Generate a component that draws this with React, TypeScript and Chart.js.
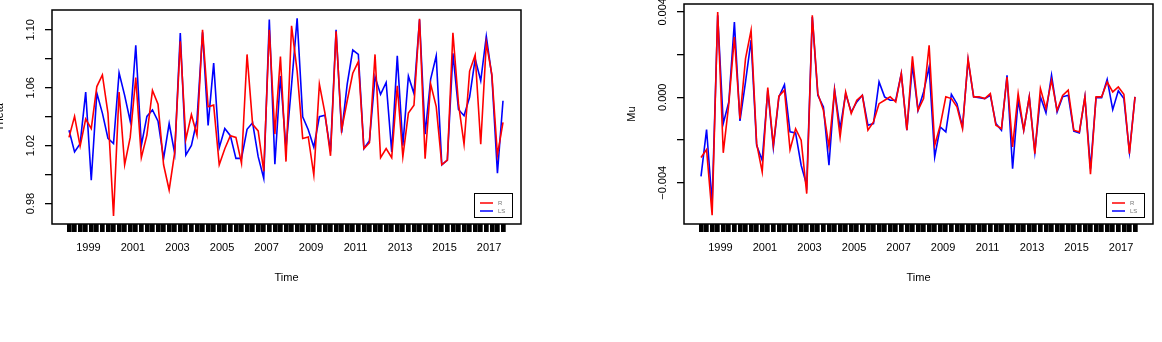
import React, { useEffect, useRef } from "react";
import { Chart, registerables } from "chart.js";

Chart.register(...registerables);

// Quarterly series, 1998 Q1 .. 2017 Q3 (plotted at mid-quarter)
const FIRST_QUARTER = 1998.125;

const thetaR = [
  1.0257, 1.0402, 1.0197, 1.0384, 1.0318, 1.0608, 1.0688, 1.0425, 0.9715, 1.057,
  1.0068, 1.0257, 1.067, 1.0117, 1.0273, 1.0581, 1.0487, 1.0068, 0.9894, 1.0153,
  1.092, 1.0242, 1.0414, 1.0273, 1.1, 1.0469, 1.048, 1.0068, 1.0179, 1.0269,
  1.0257, 1.0079, 1.083, 1.0347, 1.0302, 1.0023, 1.1, 1.028, 1.0815, 1.009,
  1.1027, 1.0715, 1.025, 1.026, 0.9997, 1.0625, 1.0425, 1.013, 1.099, 1.031,
  1.051, 1.07, 1.078, 1.018, 1.022, 1.083, 1.0117, 1.018, 1.0117, 1.0614,
  1.0124, 1.0425, 1.048, 1.1076, 1.011, 1.0625, 1.047, 1.0068, 1.01, 1.098,
  1.049, 1.021, 1.0715, 1.0826, 1.021, 1.091, 1.069, 1.0135, 1.036,
];

const thetaLS = [
  1.0306, 1.0157, 1.0213, 1.057, 0.9961, 1.0563, 1.0425, 1.0251, 1.0215, 1.0703,
  1.0547, 1.0369, 1.0893, 1.0202, 1.0402, 1.0447, 1.0369, 1.0112, 1.0353, 1.0146,
  1.0978, 1.0135, 1.0202, 1.0376, 1.0982, 1.034, 1.077, 1.0186, 1.0318, 1.0269,
  1.0112, 1.0112, 1.0313, 1.0358, 1.0124, 0.9974, 1.1071, 1.0072, 1.0681, 1.0179,
  1.062, 1.108, 1.04, 1.031, 1.019, 1.04, 1.041, 1.016, 1.1, 1.029,
  1.0625, 1.086, 1.083, 1.018, 1.0235, 1.0675, 1.0554, 1.0636, 1.0157, 1.082,
  1.02, 1.068, 1.056, 1.107, 1.028, 1.066, 1.082, 1.0068, 1.01, 1.0837,
  1.045, 1.0407, 1.0536, 1.08, 1.0648, 1.0955, 1.068, 1.001, 1.051,
];

const muR = [
  -0.00282, -0.00245, -0.00552, 0.00399, -0.0026, -0.0003, 0.00282, -0.001, 0.00181, 0.00313,
  -0.00217, -0.00349, 0.00045, -0.00225, 0.00005, 0.00033, -0.00245, -0.00147, -0.00201, -0.00451,
  0.00384, 0.00017, -0.00061, -0.00232, 0.00033, -0.00186, 0.00025, -0.00076, -0.00014, 0.00009,
  -0.00154, -0.00115, -0.0003, -0.00014, 0.00002, -0.00022, 0.00111, -0.00154, 0.00192, -0.00061,
  -0.00006, 0.00243, -0.00225, -0.00131, 0.00002, -0.00006, -0.00045, -0.00147, 0.00181, 0.00002,
  0.00002, -0.00006, 0.00017, -0.00131, -0.00147, 0.00095, -0.00232, 0.00017, -0.00154, 0.00002,
  -0.00264, 0.00041, -0.00053, 0.0008, -0.00061, 0.00009, 0.00033, -0.00154, -0.00162, 0.00002,
  -0.0036, 0.00002, 0.00002, 0.00072, 0.00025, 0.00048, 0.00014, -0.00264, 0.00002,
];

const muLS = [
  -0.0037, -0.00151, -0.00497, 0.00384, -0.00123, -0.00022, 0.00352, -0.00111, 0.00072, 0.00267,
  -0.00225, -0.00295, 0.00033, -0.00235, 0.00002, 0.00059, -0.00162, -0.00167, -0.00318, -0.00412,
  0.00376, 0.00009, -0.00045, -0.00318, 0.00036, -0.00147, 0.00017, -0.00069, -0.00022, 0.00009,
  -0.00131, -0.00123, 0.00072, 0.00002, -0.00014, -0.00014, 0.00111, -0.00154, 0.0015, -0.00061,
  0.00025, 0.00142, -0.00279, -0.00139, -0.00162, 0.00014, -0.0003, -0.00139, 0.00173, 0.00002,
  -0.00002, -0.00006, 0.00009, -0.00123, -0.00154, 0.00103, -0.00334, -0.00014, -0.00154, 0.00002,
  -0.00256, 0.00002, -0.00073, 0.00103, -0.00069, 0.00002, 0.00009, -0.00158, -0.00167, 0.00002,
  -0.00334, -0.00002, -0.00002, 0.00084, -0.00058, 0.0003, -0.00006, -0.00256, 0.00002,
];

const yearLabels = [1999, 2001, 2003, 2005, 2007, 2009, 2011, 2013, 2015, 2017];

const thetaTicks = [0.98, 1.0, 1.02, 1.04, 1.06, 1.08, 1.1];
const thetaTickLabels = ["0.98", "", "1.02", "", "1.06", "", "1.10"];
const muTicks = [-0.004, -0.002, 0, 0.002, 0.004];
const muTickLabels = ["\u22120.004", "", "0.000", "", "0.004"];

const seriesNames = ["R", "LS"];
const seriesColors = ["#ff0000", "#0000ff"];

const quarterTimes = thetaR.map((_, i) => FIRST_QUARTER + i / 4);

const FONT = '"Liberation Sans", Arial, Helvetica, sans-serif';
const X_MIN = 1997.361;
const X_MAX = 2018.434;

const boxPlugin = {
  id: "rbox",
  afterDatasetsDraw(chart: any) {
    const { ctx, chartArea: a } = chart;
    ctx.save();
    ctx.strokeStyle = "#000";
    ctx.lineWidth = 1.5;
    ctx.strokeRect(Math.round(a.left), Math.round(a.top), Math.round(a.right - a.left), Math.round(a.bottom - a.top));
    ctx.restore();
  },
};

const legendPlugin = {
  id: "rlegend",
  afterDraw(chart: any) {
    const { ctx, chartArea: a } = chart;
    const x0 = Math.round(a.right) - 47;
    const y0 = Math.round(a.bottom) - 31;
    ctx.save();
    ctx.fillStyle = "#fff";
    ctx.fillRect(x0, y0, 38, 24);
    ctx.strokeStyle = "#000";
    ctx.lineWidth = 1;
    ctx.strokeRect(x0 + 0.5, y0 + 0.5, 38, 24);
    chart.data.datasets.forEach((ds: any, i: number) => {
      const y = y0 + 10 + i * 8;
      ctx.strokeStyle = ds.borderColor;
      ctx.lineWidth = 1.5;
      ctx.beginPath();
      ctx.moveTo(x0 + 6, y);
      ctx.lineTo(x0 + 19, y);
      ctx.stroke();
      ctx.fillStyle = "#777";
      ctx.font = "6px " + FONT;
      ctx.textBaseline = "middle";
      ctx.textAlign = "left";
      ctx.fillText(ds.label, x0 + 24, y);
    });
    ctx.restore();
  },
};

type PanelProps = {
  left: number;
  width: number;
  axisWidth: number;
  rightPad: number;
  yTitle: string;
  yTitleOffset: number;
  yLabelPad: number;
  r: number[];
  ls: number[];
  yMin: number;
  yMax: number;
  yTicks: number[];
  yTickLabels: string[];
};

function Panel(p: PanelProps) {
  const ref = useRef<HTMLCanvasElement>(null);
  useEffect(() => {
    const font = { family: FONT, size: 11 };
    const series = [p.r, p.ls];
    const chart = new Chart(ref.current as HTMLCanvasElement, {
      type: "line",
      data: {
        datasets: series.map((vals, k) => ({
          label: seriesNames[k],
          data: vals.map((v, i) => ({ x: quarterTimes[i], y: v })),
          borderColor: seriesColors[k],
          backgroundColor: seriesColors[k],
          borderWidth: 1.6,
          pointRadius: 0,
          tension: 0,
          fill: false,
        })),
      },
      options: {
        animation: false,
        responsive: false,
        maintainAspectRatio: false,
        events: [],
        layout: { padding: { top: 4, right: p.rightPad, bottom: 0, left: 0 } },
        plugins: { legend: { display: false }, tooltip: { enabled: false }, title: { display: false } },
        scales: {
          x: {
            type: "linear",
            min: X_MIN,
            max: X_MAX,
            afterBuildTicks: (s: any) => {
              const arr = [
                ...quarterTimes.map((v) => ({ value: v })),
                ...yearLabels.map((v) => ({ value: v })),
              ];
              arr.sort((a, b) => a.value - b.value);
              s.ticks = arr;
            },
            afterFit: (s: any) => {
              s.height = 118;
            },
            grid: {
              drawOnChartArea: false,
              tickLength: 8,
              color: "#000",
              lineWidth: (c: any) => (c.tick && yearLabels.includes(c.tick.value) ? 0 : 4.7),
            },
            border: { display: false },
            ticks: {
              autoSkip: false,
              maxRotation: 0,
              minRotation: 0,
              padding: 9.4,
              color: "#000",
              font,
              callback: (v: any) => (yearLabels.includes(v) ? String(v) : ""),
            },
            title: { display: true, text: "Time", color: "#000", font, padding: { top: 0, bottom: 57.4 } },
          },
          y: {
            type: "linear",
            min: p.yMin,
            max: p.yMax,
            afterBuildTicks: (s: any) => {
              s.ticks = p.yTicks.map((v) => ({ value: v }));
            },
            afterFit: (s: any) => {
              s.width = p.axisWidth;
            },
            grid: { drawOnChartArea: false, tickLength: 7, color: "#000", lineWidth: 1.3 },
            border: { display: false },
            ticks: {
              autoSkip: false,
              minRotation: 90,
              maxRotation: 90,
              crossAlign: "center",
              padding: p.yLabelPad,
              color: "#000",
              font,
              callback: (_v: any, i: number) => p.yTickLabels[i],
            },
            title: { display: true, text: p.yTitle, color: "#000", font, padding: { top: p.yTitleOffset, bottom: 0 } },
          },
        },
      } as any,
      plugins: [boxPlugin, legendPlugin],
    });
    return () => chart.destroy();
  }, []);
  return (
    <canvas
      ref={ref}
      width={p.width}
      height={342}
      style={{ position: "absolute", left: p.left, top: 0, width: p.width, height: 342 }}
    />
  );
}

export default function App() {
  return (
    <div style={{ position: "absolute", left: 0, top: 0, width: 1162, height: 342, background: "#fff", overflow: "hidden" }}>
      <Panel
        left={0}
        width={581}
        axisWidth={52}
        rightPad={60}
        yTitle="Theta"
        yTitleOffset={-6.6}
        yLabelPad={3.8}
        r={thetaR}
        ls={thetaLS}
        yMin={0.9659}
        yMax={1.1134}
        yTicks={thetaTicks}
        yTickLabels={thetaTickLabels}
      />
      <Panel
        left={581}
        width={581}
        axisWidth={103}
        rightPad={9}
        yTitle="Mu"
        yTitleOffset={44.4}
        yLabelPad={-2.5}
        r={muR}
        ls={muLS}
        yMin={-0.00593}
        yMax={0.00436}
        yTicks={muTicks}
        yTickLabels={muTickLabels}
      />
    </div>
  );
}
